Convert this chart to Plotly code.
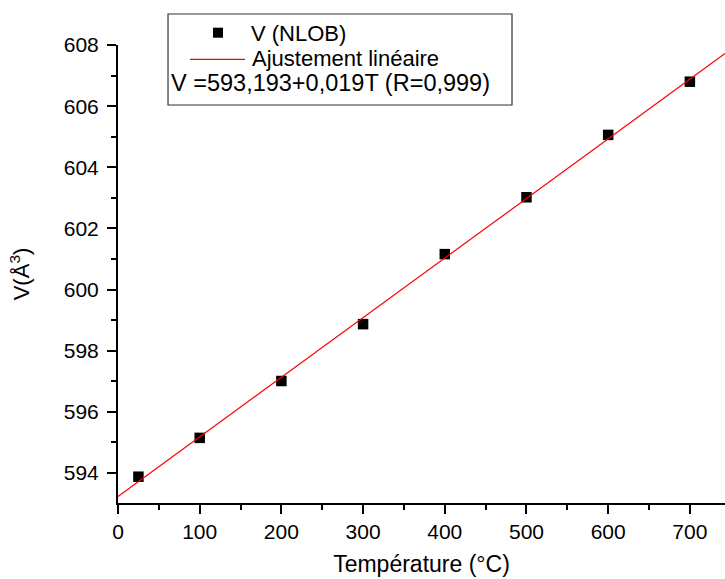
import numpy as np
import plotly.graph_objects as go

# Data
temperature = [25, 100, 200, 300, 400, 500, 600, 700]
volume = [593.88, 595.15, 597.01, 598.87, 601.16, 603.02, 605.06, 606.80]

series_name = "V (NLOB)"
fit_name = "Ajustement linéaire"
fit_label = "V =593,193+0,019T (R=0,999)"

x_range = [0, 743]
y_range = [593.02, 608]

# Linear fit of the data
slope, intercept = np.polyfit(temperature, volume, 1)
fit_x = np.array(x_range, dtype=float)
fit_y = intercept + slope * fit_x

FONT = "Arial, 'Liberation Sans', sans-serif"

fig = go.Figure()
fig.add_trace(go.Scatter(
    x=temperature, y=volume, mode="markers", name=series_name,
    marker=dict(symbol="square", size=10.5, color="black", line=dict(width=0)),
    showlegend=False,
))
fig.add_trace(go.Scatter(
    x=fit_x, y=fit_y, mode="lines", name=fit_name,
    line=dict(color="#ff0000", width=1.2),
    showlegend=False,
))

axis_common = dict(
    showline=True, linecolor="black", linewidth=2,
    ticks="outside", tickcolor="black", tickwidth=1.5,
    showgrid=False, zeroline=False, mirror=False, automargin=False,
    tickfont=dict(family=FONT, size=21, color="black"),
)

fig.update_xaxes(
    range=x_range, dtick=100, tick0=0, ticklen=9,
    minor=dict(dtick=50, tick0=0, ticks="outside", ticklen=5, tickcolor="black", tickwidth=1.5, showgrid=False),
    title=dict(text="Température (°C)", font=dict(family=FONT, size=23, color="black"), standoff=14),
    **axis_common,
)
fig.update_yaxes(
    range=y_range, dtick=2, tick0=594, ticklen=9,
    minor=dict(dtick=1, tick0=594, ticks="outside", ticklen=5, tickcolor="black", tickwidth=1.5, showgrid=False),
    title=dict(text="V(Å<sup>3</sup>)", font=dict(family=FONT, size=22, color="black"), standoff=28),
    ticklabelstandoff=4,
    **axis_common,
)

# Manual legend box (paper coordinates)
fig.add_shape(type="rect", xref="paper", yref="paper",
              x0=0.0824, x1=0.6491, y0=0.869, y1=1.0677,
              line=dict(color="#333333", width=1.2), fillcolor="white", layer="above")
fig.add_shape(type="rect", xref="paper", yref="paper",
              x0=0.1565, x1=0.1730, y0=1.0159, y1=1.0378,
              line=dict(width=0), fillcolor="black", layer="above")
fig.add_shape(type="line", xref="paper", yref="paper",
              x0=0.1186, x1=0.2092, y0=0.9688, y1=0.9688,
              line=dict(color="#ff0000", width=1.2), layer="above")

legend_font = dict(family=FONT, size=22, color="black")
fig.add_annotation(xref="paper", yref="paper", x=0.2150, y=1.0262, text=series_name,
                   showarrow=False, xanchor="left", yanchor="middle", font=legend_font)
fig.add_annotation(xref="paper", yref="paper", x=0.2170, y=0.9716, text=fit_name,
                   showarrow=False, xanchor="left", yanchor="middle", font=legend_font)
fig.add_annotation(xref="paper", yref="paper", x=0.0835, y=0.917, text=fit_label,
                   showarrow=False, xanchor="left", yanchor="middle",
                   font=dict(family=FONT, size=23.5, color="black"))

fig.update_layout(
    width=725, height=579,
    margin=dict(l=118, r=0, t=45, b=76),
    paper_bgcolor="white", plot_bgcolor="white",
    showlegend=False,
    font=dict(family=FONT, color="black"),
)

fig.write_html(
    "out.html",
    config={"displayModeBar": False},
    post_script="document.body.style.margin='0';document.body.style.padding='0';document.body.style.overflow='hidden';",
)
